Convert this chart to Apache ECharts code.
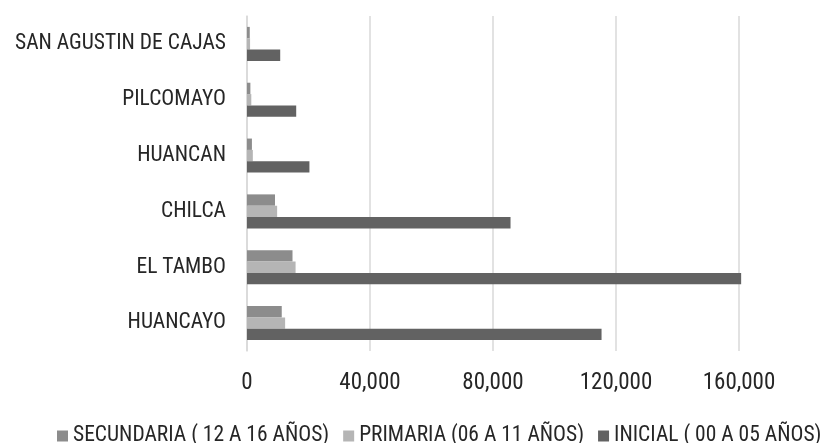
<!DOCTYPE html>
<html><head><meta charset="utf-8">
<script src="https://cdn.jsdelivr.net/npm/echarts@6/dist/echarts.min.js"></script>
<style>html,body{margin:0;padding:0;background:#fff}#c{width:823px;height:443px}</style>
</head><body><div id="c"></div>
<script>
const categories = ['HUANCAYO','EL TAMBO','CHILCA','HUANCAN','PILCOMAYO','SAN AGUSTIN DE CAJAS'];
const secundaria = [11300, 14800, 9100, 1600, 1100, 900];
const primaria = [12400, 15800, 9800, 1900, 1400, 1000];
const inicial = [115300, 160700, 85700, 20300, 16000, 10800];
const xTicks = [0, 40000, 80000, 120000, 160000];
const seriesNames = ['SECUNDARIA ( 12 A 16 AÑOS)','PRIMARIA (06 A 11 AÑOS)','INICIAL ( 00 A 05 AÑOS)'];
const colors = ['#8c8c8c','#b5b5b5','#626262'];
const font = '"Roboto Condensed","Liberation Sans Narrow",sans-serif';
const chart = echarts.init(document.getElementById('c'));
const mk = (i, d) => ({name: seriesNames[i], type:'bar', data:d, barGap:'0%', barCategoryGap:'39%', clip:false,
  itemStyle:{color:colors[i]}});
chart.setOption({
  animation:false,
  textStyle:{fontFamily:font},
  grid:{left:247, right:84, top:16, bottom:92, containLabel:false},
  legend:{top:420, left:52, width:800, itemWidth:11, itemHeight:11, itemGap:14, icon:'rect',
    textStyle:{fontFamily:font, fontSize:21.5, color:'#262626'}},
  xAxis:{type:'value', min:xTicks[0], max:xTicks[xTicks.length-1], interval:40000,
    axisLine:{show:false}, axisTick:{show:false},
    splitLine:{lineStyle:{color:'#d9d9d9', width:1.5}},
    axisLabel:{fontFamily:font, fontSize:23, color:'#262626', margin:21,
      formatter:v=>v.toLocaleString('en-US')}},
  yAxis:{type:'category', data:categories,
    axisLine:{lineStyle:{color:'#d9d9d9', width:1.5}}, axisTick:{show:false},
    axisLabel:{fontFamily:font, fontSize:21.5, color:'#262626', margin:21}},
  series:[mk(0,secundaria), mk(1,primaria), mk(2,inicial)]
});
</script></body></html>
